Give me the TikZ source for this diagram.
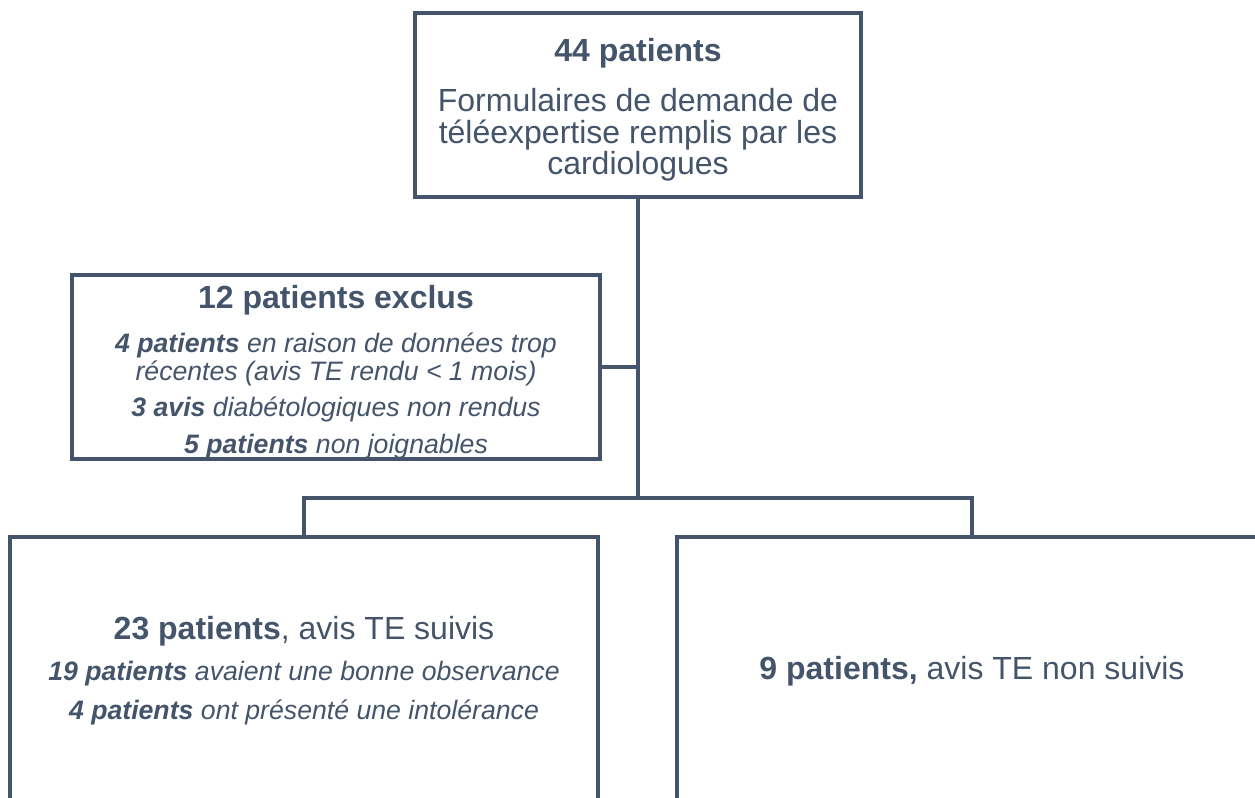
\documentclass[tikz,border=0pt]{standalone}
\usepackage{fontspec}
\setmainfont{Liberation Sans}
\definecolor{ardoise}{HTML}{44546A}
\newcommand\detail{\fontsize{20}{21.75}\selectfont\itshape}
\newcommand\nbpat[1]{\textbf{#1}}
\begin{document}
\begin{tikzpicture}
			[
				x                   = 0.75pt,
				y                   = -0.75pt,
				line width          = 2.4pt,
				boite/.style        = {draw = ardoise, text = ardoise, rectangle,
				                       inner sep = 0pt, align = center,
				                       font = \fontsize{24}{23.6}\selectfont},
				lien/.style         = {draw = ardoise, line cap = rect}
			]
			\useasboundingbox (0,0) rectangle (1255,798);
			\clip (0,0) rectangle (1255,798);
			\node [boite, minimum width = 334.5pt, minimum height = 138pt] (demande) at (638,105)
				{\rule{0pt}{24.6pt}\nbpat{44 patients}\\[13.9pt]
				 Formulaires de demande de\\
				 téléexpertise remplis par les\\
				 cardiologues};
			\node [boite, minimum width = 396pt, minimum height = 138pt] (exclus) at (336,367)
				{\rule{0pt}{25pt}\nbpat{12 patients exclus}\\[9.4pt]
				 {\detail\nbpat{4 patients} en raison de données trop}\\[-2.5pt]
				 {\detail récentes (avis TE rendu < 1 mois)}\\[3.8pt]
				 {\detail\nbpat{3 avis} diabétologiques non rendus}\\[3.8pt]
				 {\detail\nbpat{5 patients} non joignables}};
			\node [boite, minimum width = 441pt, minimum height = 201pt] (suivis) at (304,671)
				{\nbpat{23 patients}, avis TE suivis\\[7.15pt]
				 {\detail\nbpat{19 patients} avaient une bonne observance}\\[5.65pt]
				 {\detail\nbpat{4 patients} ont présenté une intolérance}};
			\node [boite, minimum width = 442.5pt, minimum height = 201pt] (nonsuivis) at (972,671)
				{\nbpat{9 patients,} avis TE non suivis};
			% tronc et embranchements
			\coordinate (fourche) at (638,498);
			\draw [lien] (demande.south) -- (fourche);
			\draw [lien] (exclus.east) -- (exclus.east -| demande.south);
			\draw [lien] (suivis.north) |- (fourche) -| (nonsuivis.north);
		\end{tikzpicture}
\end{document}
